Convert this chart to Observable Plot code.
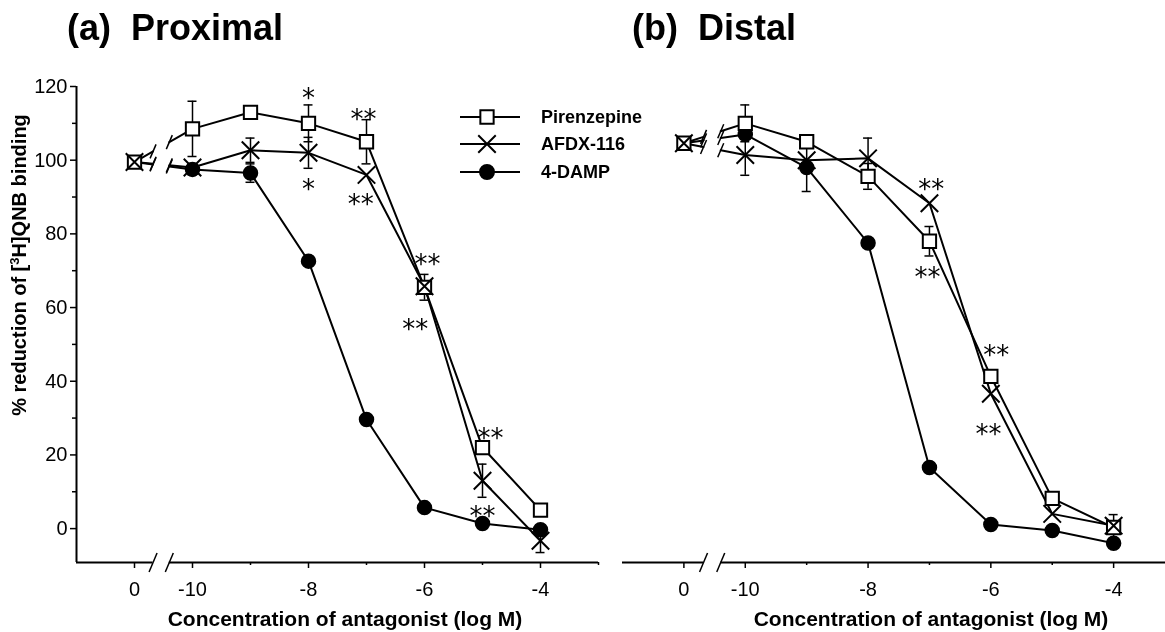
<!DOCTYPE html>
<html>
<head>
<meta charset="utf-8">
<script src="https://cdn.jsdelivr.net/npm/d3@7"></script>
<script src="https://cdn.jsdelivr.net/npm/@observablehq/plot@0.6"></script>
<style>
  body { margin: 0; background: #fff; }
  #wrap { position: relative; width: 1165px; height: 632px; overflow: hidden; background: #fff;
          font-family: "Liberation Sans", Arial, Helvetica, sans-serif; }
  #wrap > svg { will-change: transform; }
  #wrap > .panel { position: absolute; top: 0; }
  #overlay { position: absolute; left: 0; top: 0; pointer-events: none; }
  .panel g[aria-label*="axis"] text { font-size: 20px; }
  .panel g[aria-label*="axis tick"]:not([aria-label*="label"]) { stroke-width: 1.5px; }
</style>
</head>
<body>
<div id="wrap"></div>
<script>
// ---------------- data ----------------
// x position -11 stands for the control ("0") placed before the axis break
const concentrations = [-11, -10, -9, -8, -7, -6, -5, -4];
const xTickValues = [-11, -10, -8, -6, -4];
const xTickLabels = ["0", "-10", "-8", "-6", "-4"];
const xMinorTicks = [-9, -7, -5, -3];
const yTickValues = [0, 20, 40, 60, 80, 100, 120];
const yMinorTicks = [10, 30, 50, 70, 90, 110];
const axisBreaks = [-10.68, -10.4];
const seriesNames = ["Pirenzepine", "AFDX-116", "4-DAMP"];

// (a) Proximal
const proxPirenzepine    = [99.5, 108.5, 113, 110, 105, 65.5, 22, 5];
const proxPirenzepineErr = [0, 7.5, 0, 5, 6, 3.5, 0, 0];
const proxAFDX           = [99.5, 98, 102.7, 102, 96, 65.8, 13, -3.3];
const proxAFDXErr        = [0, 0, 3.3, 4.2, 0, 0, 4.5, 3.2];
const proxDAMP           = [99.5, 97.5, 96.5, 72.6, 29.6, 5.7, 1.4, -0.3];
const proxDAMPErr        = [0, 1.5, 2.5, 0, 0, 0, 0, 0];
const proxStarX    = [-8, -8, -7.05, -7.1, -5.95, -6.16, -4.86, -5.0];
const proxStarY    = [118.5, 93.8, 113, 89.7, 73.6, 56, 26.4, 5.2];
const proxStarText = ["*", "*", "**", "**", "**", "**", "**", "**"];

// (b) Distal
const distPirenzepine    = [104.6, 110, 105, 95.6, 78, 41.3, 8.2, 0.3];
const distPirenzepineErr = [0, 5, 0, 3.5, 4, 0, 0, 3.5];
const distAFDX           = [104.6, 101.4, 100, 100.5, 88.3, 36.6, 4, 0.8];
const distAFDXErr        = [0, 5.5, 0, 5.5, 0, 0, 0, 0];
const distDAMP           = [104.6, 107, 98, 77.5, 16.6, 1.1, -0.5, -4];
const distDAMPErr        = [0, 0, 6.5, 0, 0, 0, 0, 0];
const distStarX    = [-6.97, -7.03, -5.91, -6.04];
const distStarY    = [93.8, 70.1, 48.9, 27.4];
const distStarText = ["**", "**", "**", "**"];

// ---------------- drawing ----------------
const FONT = "Liberation Sans, Arial, Helvetica, sans-serif";
const STAR_FONT = "DejaVu Sans, sans-serif";
const H = 632, MT = 86, MB = 70, Y_MIN = -9.2, Y_MAX = 120, X_MIN = -12;
const R_SQ = 7.5, R_X = 8, R_DOT = 7;

function panel({series, errs, starX, starY, starText, width, marginLeft, marginRight, xMax, showYAxis}) {
  const pxX = (width - marginLeft - marginRight) / (xMax - X_MIN);
  const pxY = (H - MT - MB) / (Y_MAX - Y_MIN);
  const rows = [];
  series.forEach((vals, s) => vals.forEach((v, i) =>
    rows.push({s, x: concentrations[i], y: v, err: errs[s][i]})));
  const segs = [], slashes = [];
  series.forEach((vals, s) => {
    const x0 = concentrations[0], x1 = concentrations[1];
    const at = b => vals[0] + (vals[1] - vals[0]) * (b - x0) / (x1 - x0);
    segs.push({z: s + "a", x: x0, y: vals[0]}, {z: s + "a", x: axisBreaks[0], y: at(axisBreaks[0])});
    segs.push({z: s + "b", x: axisBreaks[1], y: at(axisBreaks[1])});
    vals.slice(1).forEach((v, i) => segs.push({z: s + "b", x: concentrations[i + 1], y: v}));
    axisBreaks.forEach(b => slashes.push({x: b, y: at(b)}));
  });
  const errRows = rows.filter(r => r.err > 0);
  const caps = errRows.flatMap(r => [{x: r.x, y: r.y - r.err}, {x: r.x, y: r.y + r.err}]);
  const stars = starX.map((x, i) => ({x, y: starY[i], t: starText[i]}));
  const capW = 4.5 / pxX;
  // slash half-extents (pixels converted to data units)
  const sw = 3 / pxX, sh = 7 / pxY, aw = 4 / pxX, ah = 9.5 / pxY;

  const marks = [
    // x axis line with break
    Plot.ruleY([{a: X_MIN, b: axisBreaks[0]}, {a: axisBreaks[1], b: xMax}],
      {y: () => Y_MIN, x1: "a", x2: "b", stroke: "black", strokeWidth: 2}),
    Plot.link(axisBreaks, {x1: d => d - aw, x2: d => d + aw, y1: () => Y_MIN - ah, y2: () => Y_MIN + ah,
      stroke: "black", strokeWidth: 1.5}),
    Plot.ruleX(xMinorTicks.filter(t => t <= xMax), {x: d => d, y1: () => Y_MIN, y2: () => Y_MIN - 3 / pxY, strokeWidth: 1.5}),
    // data lines
    Plot.line(segs, {x: "x", y: "y", z: "z", stroke: "black", strokeWidth: 2}),
    Plot.link(slashes, {x1: d => d.x - sw, x2: d => d.x + sw, y1: d => d.y - sh, y2: d => d.y + sh,
      stroke: "black", strokeWidth: 1.5}),
    // error bars
    Plot.ruleX(errRows, {x: "x", y1: r => r.y - r.err, y2: r => r.y + r.err, stroke: "black", strokeWidth: 1.5}),
    Plot.ruleY(caps, {y: "y", x1: r => r.x - capW, x2: r => r.x + capW, stroke: "black", strokeWidth: 1.5}),
    // markers
    Plot.dot(rows.filter(r => r.s === 2 && r.x !== concentrations[0]),
      {x: "x", y: "y", r: R_DOT, symbol: "circle", fill: "black", stroke: "black"}),
    Plot.dot(rows.filter(r => r.s === 0),
      {x: "x", y: "y", r: R_SQ, symbol: "square", fill: "white", stroke: "black", strokeWidth: 2}),
    Plot.dot(rows.filter(r => r.s === 1),
      {x: "x", y: "y", r: R_X, symbol: "times", stroke: "black", strokeWidth: 2}),
    // significance stars
    Plot.text(stars, {x: "x", y: "y", text: "t", fontSize: 26, dy: 7, fontFamily: STAR_FONT, fill: "black"})
  ];
  if (showYAxis) {
    marks.push(
      Plot.ruleX([X_MIN], {x: d => d, y1: () => Y_MIN, y2: () => Y_MAX, stroke: "black", strokeWidth: 2}),
      Plot.ruleY(yMinorTicks, {y: d => d, x1: () => X_MIN - 4 / pxX, x2: () => X_MIN, strokeWidth: 1.5})
    );
  }
  return Plot.plot({
    width, height: H, marginLeft, marginRight, marginTop: MT, marginBottom: MB,
    style: {fontFamily: FONT, fontSize: "20px", background: "transparent", color: "black"},
    x: {domain: [X_MIN, xMax], ticks: xTickValues, tickFormat: d => xTickLabels[xTickValues.indexOf(d)],
        tickSize: 6, tickPadding: 13, line: false, label: null},
    y: showYAxis
      ? {domain: [Y_MIN, Y_MAX], ticks: yTickValues, tickSize: 6, tickPadding: 3, line: false, label: null}
      : {domain: [Y_MIN, Y_MAX], axis: null},
    marks
  });
}

const wrap = document.getElementById("wrap");

const left = panel({
  series: [proxPirenzepine, proxAFDX, proxDAMP],
  errs: [proxPirenzepineErr, proxAFDXErr, proxDAMPErr],
  starX: proxStarX, starY: proxStarY, starText: proxStarText,
  width: 600, marginLeft: 76, marginRight: 2, xMax: -3, showYAxis: true
});
left.classList.add("panel"); left.style.left = "0px";
wrap.appendChild(left);

const right = panel({
  series: [distPirenzepine, distAFDX, distDAMP],
  errs: [distPirenzepineErr, distAFDXErr, distDAMPErr],
  starX: distStarX, starY: distStarY, starText: distStarText,
  width: 565, marginLeft: 22, marginRight: 0, xMax: -3.155, showYAxis: false
});
right.classList.add("panel"); right.style.left = "600px";
wrap.appendChild(right);

// ---------------- titles, axis labels, legend ----------------
const ov = d3.select(wrap).append("svg").attr("id", "overlay")
  .attr("width", 1165).attr("height", 632)
  .attr("font-family", FONT);

ov.append("text").attr("x", 67).attr("y", 40).attr("font-size", 36).attr("font-weight", "bold")
  .style("white-space", "pre").text("(a)  Proximal");
ov.append("text").attr("x", 632).attr("y", 40).attr("font-size", 36).attr("font-weight", "bold")
  .style("white-space", "pre").text("(b)  Distal");

ov.append("text").attr("x", 345).attr("y", 626).attr("text-anchor", "middle")
  .attr("font-size", 21).attr("font-weight", "bold").text("Concentration of antagonist (log M)");
ov.append("text").attr("x", 931).attr("y", 626).attr("text-anchor", "middle")
  .attr("font-size", 21).attr("font-weight", "bold").text("Concentration of antagonist (log M)");

const yl = ov.append("text").attr("transform", "translate(26,265) rotate(-90)")
  .attr("text-anchor", "middle").attr("font-size", 20).attr("font-weight", "bold");
yl.append("tspan").text("% reduction of [");
yl.append("tspan").attr("font-size", 13).attr("dy", -7).text("3");
yl.append("tspan").attr("dy", 7).text("H]QNB binding");

const legY = [117, 144, 172];
const legSym = [
  {type: d3.symbolSquare, r: R_SQ, fill: "white", stroke: "black"},
  {type: d3.symbolTimes, r: R_X, fill: "none", stroke: "black"},
  {type: d3.symbolCircle, r: R_DOT, fill: "black", stroke: "black"}
];
seriesNames.forEach((name, i) => {
  const g = ov.append("g").attr("transform", `translate(0,${legY[i]})`);
  g.append("line").attr("x1", 460).attr("x2", 520).attr("stroke", "black").attr("stroke-width", 2);
  g.append("path").attr("transform", "translate(487,0)")
    .attr("d", d3.symbol(legSym[i].type, legSym[i].r * legSym[i].r * Math.PI)())
    .attr("fill", legSym[i].fill).attr("stroke", legSym[i].stroke).attr("stroke-width", 2);
  g.append("text").attr("x", 541).attr("dy", "0.35em").attr("font-size", 18)
    .attr("font-weight", "bold").text(name);
});
</script>
</body>
</html>
